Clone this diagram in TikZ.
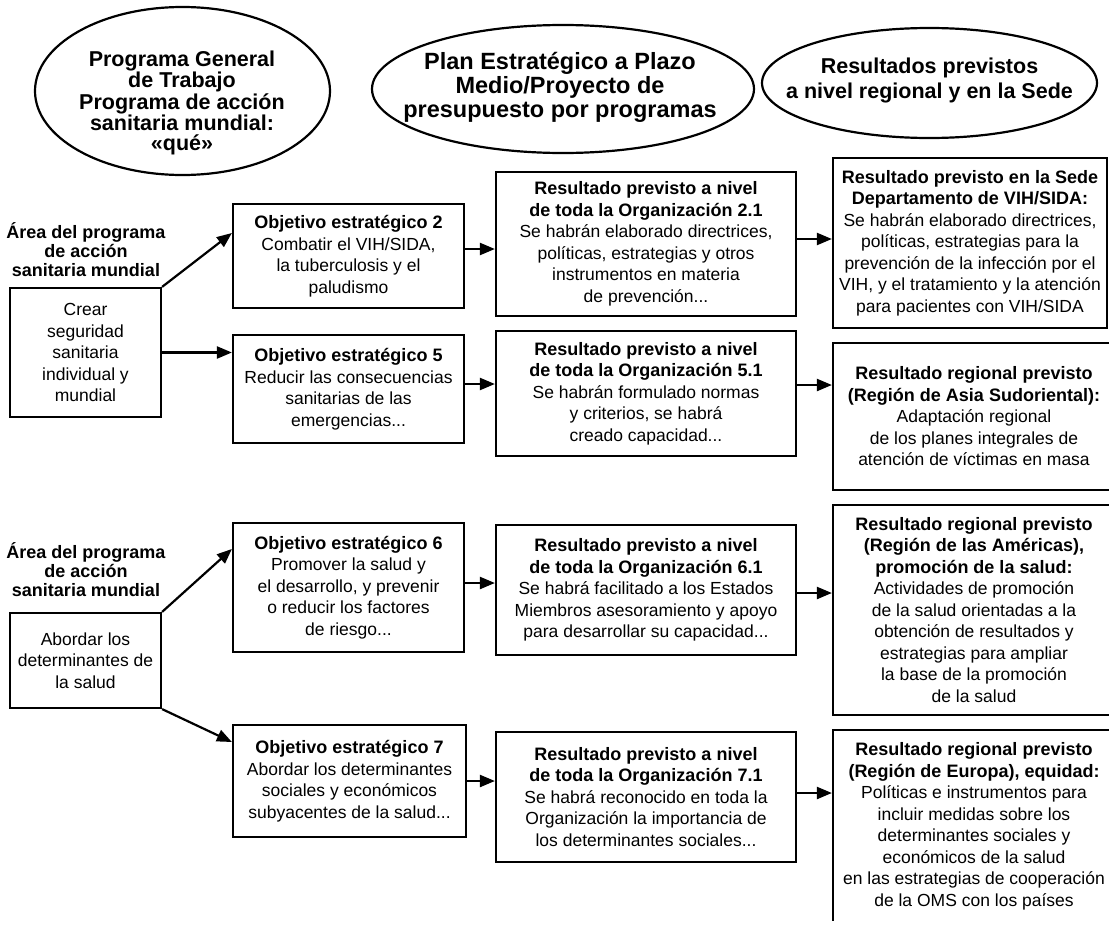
\documentclass[tikz,border=0pt]{standalone}
\usepackage{fontspec}
\setmainfont{Liberation Sans}
\usetikzlibrary{arrows.meta,shapes.geometric}
\newcommand\boxhead[1]{{\bfseries\fontsize{18}{21.5}\selectfont #1}}
\begin{document}
\begin{tikzpicture}[x=1pt,y=-1pt,
  box/.style={draw, line width=2.2pt, align=center, inner sep=0pt, font=\fontsize{17.5}{21.5}\selectfont},
  lbl/.style={align=center, inner sep=0pt, font=\bfseries\fontsize{18}{19}\selectfont},
  arr/.style={line width=2.2pt, -{Triangle[length=15pt,width=12pt]}},
  oval/.style={draw, ellipse, line width=2.2pt, inner sep=0pt},
  ovaltext/.style={align=center, inner sep=0pt, font=\bfseries\fontsize{21.5}{#1}\selectfont}
]
\useasboundingbox (0,0) rectangle (1109,926);
\clip (0,0) rectangle (1109,920.5);

% header ellipses
\node[oval, minimum width=295pt, minimum height=168pt] (e1) at (182.5,91) {};
\node[ovaltext=20] (t1) at (182,103) {Programa General\\de Trabajo\\Programa de acción\\sanitaria mundial:\\«qué»};
\node[oval, minimum width=382pt, minimum height=128pt] (e2) at (563,89) {};
\node[align=center, inner sep=0pt, font=\bfseries\fontsize{23.5}{24}\selectfont] (t2) at (560,87) {Plan Estratégico a Plazo\\Medio/Proyecto de\\presupuesto por programas};
\node[oval, minimum width=335pt, minimum height=110pt] (e3) at (929.5,83) {};
\node[ovaltext=25] (t3) at (929.5,80.5) {Resultados previstos\\a nivel regional y en la Sede};

% labels
\node[lbl] (lab1) at (86,249.5) {Área del programa\\de acción\\sanitaria mundial};
\node[lbl] (lab2) at (86,569.5) {Área del programa\\de acción\\sanitaria mundial};

% first group
\node[box, minimum width=151pt, minimum height=129pt] (crear) at (85.5,352.5) {Crear\\seguridad\\sanitaria\\individual y\\mundial};
\node[box, minimum width=231pt, minimum height=104pt] (obj2) at (348.5,256) {\boxhead{Objetivo estratégico 2}\\Combatir el VIH/SIDA,\\la tuberculosis y el\\paludismo};
\node[box, minimum width=231pt, minimum height=108pt] (obj5) at (348.5,389) {\boxhead{Objetivo estratégico 5}\\Reducir las consecuencias\\sanitarias de las\\emergencias...};
\node[box, minimum width=300pt, minimum height=144pt] (r21) at (646,244) {\boxhead{Resultado previsto a nivel}\\\boxhead{de toda la Organización 2.1}\\Se habrán elaborado directrices,\\políticas, estrategias y otros\\instrumentos en materia\\de prevención...};
\node[box, minimum width=300pt, minimum height=125pt] (r51) at (646,393.5) {\boxhead{Resultado previsto a nivel}\\\boxhead{de toda la Organización 5.1}\\Se habrán formulado normas\\y criterios, se habrá\\creado capacidad...};
\node[box, minimum width=274pt, minimum height=170pt] (sede) at (970,243) {\boxhead{Resultado previsto en la Sede}\\\boxhead{Departamento de VIH/SIDA:}\\Se habrán elaborado directrices,\\políticas, estrategias para la\\prevención de la infección por el\\VIH, y el tratamiento y la atención\\para pacientes con VIH/SIDA};
\node[box, minimum width=282pt, minimum height=147pt] (asia) at (974,416.5) {\boxhead{Resultado regional previsto}\\\boxhead{(Región de Asia Sudoriental):}\\Adaptación regional\\de los planes integrales de\\atención de víctimas en masa};

% second group
\node[box, minimum width=151pt, minimum height=95pt] (abordar) at (85.5,660.5) {Abordar los\\determinantes de\\la salud};
\node[box, minimum width=231pt, minimum height=129pt] (obj6) at (348.5,587.5) {\boxhead{Objetivo estratégico 6}\\Promover la salud y\\el desarrollo, y prevenir\\o reducir los factores\\de riesgo...};
\node[box, minimum width=233pt, minimum height=112pt] (obj7) at (349.5,781) {\boxhead{Objetivo estratégico 7}\\Abordar los determinantes\\sociales y económicos\\subyacentes de la salud...};
\node[box, minimum width=300pt, minimum height=130pt] (r61) at (646,590) {\boxhead{Resultado previsto a nivel}\\\boxhead{de toda la Organización 6.1}\\Se habrá facilitado a los Estados\\Miembros asesoramiento y apoyo\\para desarrollar su capacidad...};
\node[box, minimum width=300pt, minimum height=130pt] (r71) at (646,797) {\boxhead{Resultado previsto a nivel}\\\boxhead{de toda la Organización 7.1}\\Se habrá reconocido en toda la\\Organización la importancia de\\los determinantes sociales...};
\node[box, minimum width=282pt, minimum height=210pt] (americas) at (974,610) {\boxhead{Resultado regional previsto}\\\boxhead{(Región de las Américas),}\\\boxhead{promoción de la salud:}\\Actividades de promoción\\de la salud orientadas a la\\obtención de resultados y\\estrategias para ampliar\\la base de la promoción\\de la salud};
\node[box, minimum width=282pt, minimum height=193pt] (europe) at (974,826.5) {\boxhead{Resultado regional previsto}\\\boxhead{(Región de Europa), equidad:}\\Políticas e instrumentos para\\incluir medidas sobre los\\determinantes sociales y\\económicos de la salud\\en las estrategias de cooperación\\de la OMS con los países};

% connectors
\draw[arr] (crear.north east) -- ([yshift=23pt]obj2.west);
\draw[arr] (crear.east) -- (crear.east -| obj5.west);
\path ([yshift=7pt]obj2.east) coordinate (p1);
\draw[arr] (p1) -- (p1 -| r21.west);
\path ([yshift=5pt]obj5.east) coordinate (p2);
\draw[arr] (p2) -- (p2 -| r51.west);
\path ([yshift=5pt]r21.east) coordinate (p3);
\draw[arr] (p3) -- (p3 -| sede.west);
\path ([yshift=8.5pt]r51.east) coordinate (p4);
\draw[arr] (p4) -- (p4 -| asia.west);

\draw[arr] (abordar.north east) -- ([yshift=38.5pt]obj6.west);
\draw[arr] (abordar.south east) -- ([yshift=39pt]obj7.west);
\path ([yshift=4.5pt]obj6.east) coordinate (p5);
\draw[arr] (p5) -- (p5 -| r61.west);
\draw[arr] (obj7.east) -- (obj7.east -| r71.west);
\path ([yshift=-3pt]r61.east) coordinate (p6);
\draw[arr] (p6) -- (p6 -| americas.west);
\path ([yshift=4pt]r71.east) coordinate (p7);
\draw[arr] (p7) -- (p7 -| europe.west);
\end{tikzpicture}
\end{document}
